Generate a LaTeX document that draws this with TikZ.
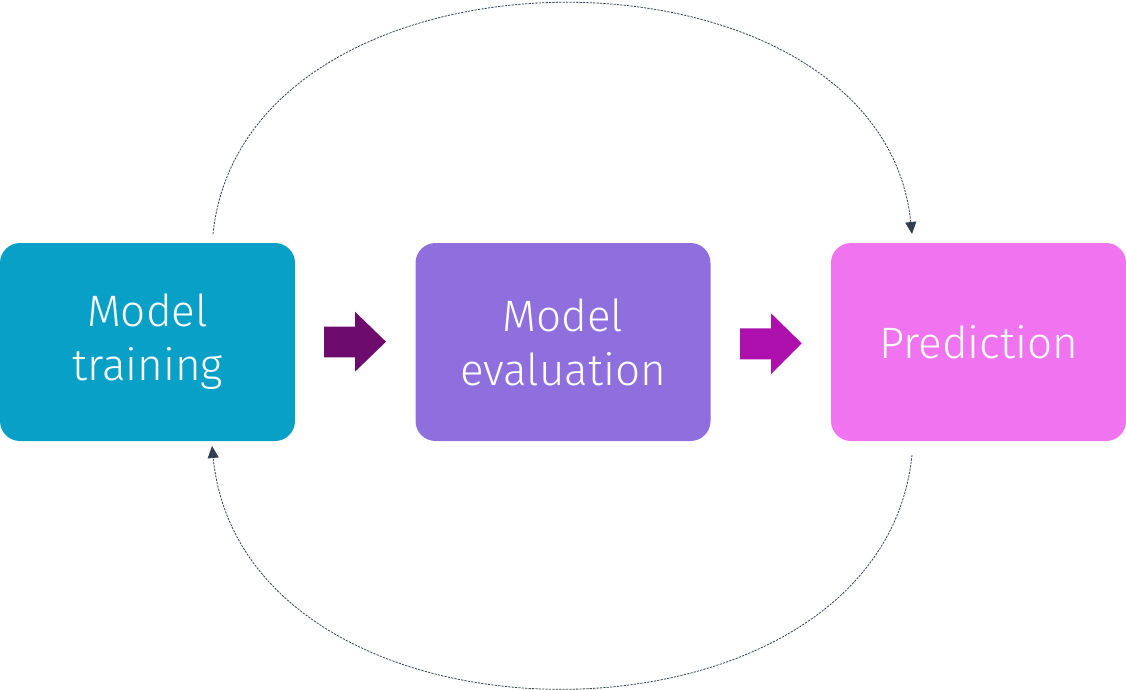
\documentclass[tikz,border=0pt]{standalone}
\usepackage{fontspec}
\setmainfont{Fira Sans Light}
\usetikzlibrary{arrows.meta}
\definecolor{cTrain}{HTML}{09A0C8}
\definecolor{cEval}{HTML}{8F6EDE}
\definecolor{cPred}{HTML}{F073F0}
\definecolor{cArrA}{HTML}{6E0C6E}
\definecolor{cArrB}{HTML}{AE10AE}
\definecolor{cLine}{HTML}{333F4F}
\tikzset{
  stagebox/.style={fill=#1, draw=none, rounded corners=20pt, minimum width=295pt, minimum height=198pt,
    text=white, align=center, inner sep=0pt, font=\fontsize{44}{54}\selectfont},
  loopline/.style={draw=cLine, line width=0.8pt, dash pattern=on 2.2pt off 1.2pt,
    -{Triangle[width=11pt,length=12pt]}},
}
\begin{document}
\begin{tikzpicture}[x=1pt,y=-1pt]
\useasboundingbox (0,0) rectangle (1126,690);
\node[stagebox=cTrain] (train) at (147.5,342) {Model\\training};
\node[stagebox=cEval] (eval) at (563,342) {Model\\evaluation};
\node[stagebox=cPred] (pred) at (978.5,342) {Prediction};
% block arrows
\fill[cArrA] (324,326.7) -- (355,326.7) -- (355,311.7) -- (386,341.7) -- (355,371.7) -- (355,357.3) -- (324,357.3) -- cycle;
\fill[cArrB] (740,328.3) -- (771,328.3) -- (771,313.3) -- (801.7,343.3) -- (771,374) -- (771,359.3) -- (740,359.3) -- cycle;
% loop connectors
\coordinate (tStart) at (213,234);
\coordinate (tEnd) at (912,234);
\coordinate (bStart) at (912,455);
\coordinate (bEnd) at (212,446);
\draw[loopline] (tStart) .. controls (245,-73) and (880,-73) .. (tEnd);
\draw[loopline] (bStart) .. controls (880,767) and (244,767) .. (bEnd);
\end{tikzpicture}
\end{document}
